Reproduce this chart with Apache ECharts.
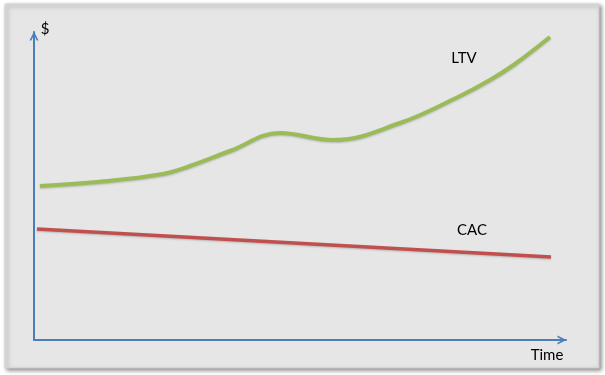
<!DOCTYPE html>
<html>
<head>
<meta charset="utf-8">
<script src="https://cdn.jsdelivr.net/npm/echarts@6/dist/echarts.min.js"></script>
<style>html,body{margin:0;padding:0;background:#fff}#c{width:605px;height:375px}</style>
</head>
<body>
<div id="c"></div>
<script>
// Time (arbitrary units) and $ values
var ltvTime  = [6, 63, 129, 156, 196, 246, 299, 366, 426, 456, 481, 516];
var ltvValue = [154, 158, 166, 174, 189, 207, 200, 217, 244, 260, 276, 303];
var cacTime  = [3, 517];
var cacValue = [111, 83];
var seriesNames = ['LTV', 'CAC'];

function pairs(xs, ys) { return xs.map(function (x, i) { return [x, ys[i]]; }); }

var chart = echarts.init(document.getElementById('c'), null, { renderer: 'canvas' });
var font = 'Lato, "Liberation Sans", sans-serif';
var axisColor = '#4a7ebb';
var openArrow = 'path://M0,10 L5,0 L10,10 L8,10 L5,4 L2,10 Z';
chart.setOption({
  animation: false,
  backgroundColor: '#ffffff',
  grid: { left: 34, right: 39, top: 32, bottom: 35 },
  xAxis: {
    type: 'value', min: 0, max: 532,
    axisLine: { show: true, symbol: ['none', openArrow], symbolSize: [10, 9], symbolOffset: [0, -4],
      lineStyle: { color: axisColor, width: 2 } },
    axisTick: { show: false }, axisLabel: { show: false }, splitLine: { show: false }
  },
  yAxis: {
    type: 'value', min: 0, max: 308,
    axisLine: { show: true, symbol: ['none', openArrow], symbolSize: [10, 9], symbolOffset: [0, -4],
      lineStyle: { color: axisColor, width: 2 } },
    axisTick: { show: false }, axisLabel: { show: false }, splitLine: { show: false }
  },
  graphic: [
    { type: 'rect', z: -10, shape: { x: 5, y: 4, width: 594, height: 364 },
      style: { fill: '#e6e6e6', stroke: '#d0d0d0', lineWidth: 1,
        shadowBlur: 4, shadowOffsetX: 2, shadowOffsetY: 2, shadowColor: 'rgba(0,0,0,0.45)' } },
    { type: 'text', z: 10, x: 45, y: 29, style: { text: '$', font: '15px ' + font, fill: '#000', align: 'center', verticalAlign: 'middle' } },
    { type: 'text', z: 10, x: 547, y: 355, style: { text: 'Time', font: '15px ' + font, fill: '#000', align: 'center', verticalAlign: 'middle' } },
    { type: 'text', z: 10, x: 464, y: 58, style: { text: seriesNames[0], font: '15px ' + font, fill: '#000', align: 'center', verticalAlign: 'middle' } },
    { type: 'text', z: 10, x: 472, y: 230, style: { text: seriesNames[1], font: '15px ' + font, fill: '#000', align: 'center', verticalAlign: 'middle' } }
  ],
  series: [
    { name: seriesNames[0], type: 'line', smooth: 0.4, showSymbol: false, data: pairs(ltvTime, ltvValue),
      lineStyle: { color: '#9bbb59', width: 4, shadowBlur: 2, shadowOffsetY: 1, shadowColor: 'rgba(0,0,0,0.2)' } },
    { name: seriesNames[1], type: 'line', showSymbol: false, data: pairs(cacTime, cacValue),
      lineStyle: { color: '#c0504d', width: 3.5, shadowBlur: 2, shadowOffsetY: 1, shadowColor: 'rgba(0,0,0,0.2)' } }
  ]
});
</script>
</body>
</html>
